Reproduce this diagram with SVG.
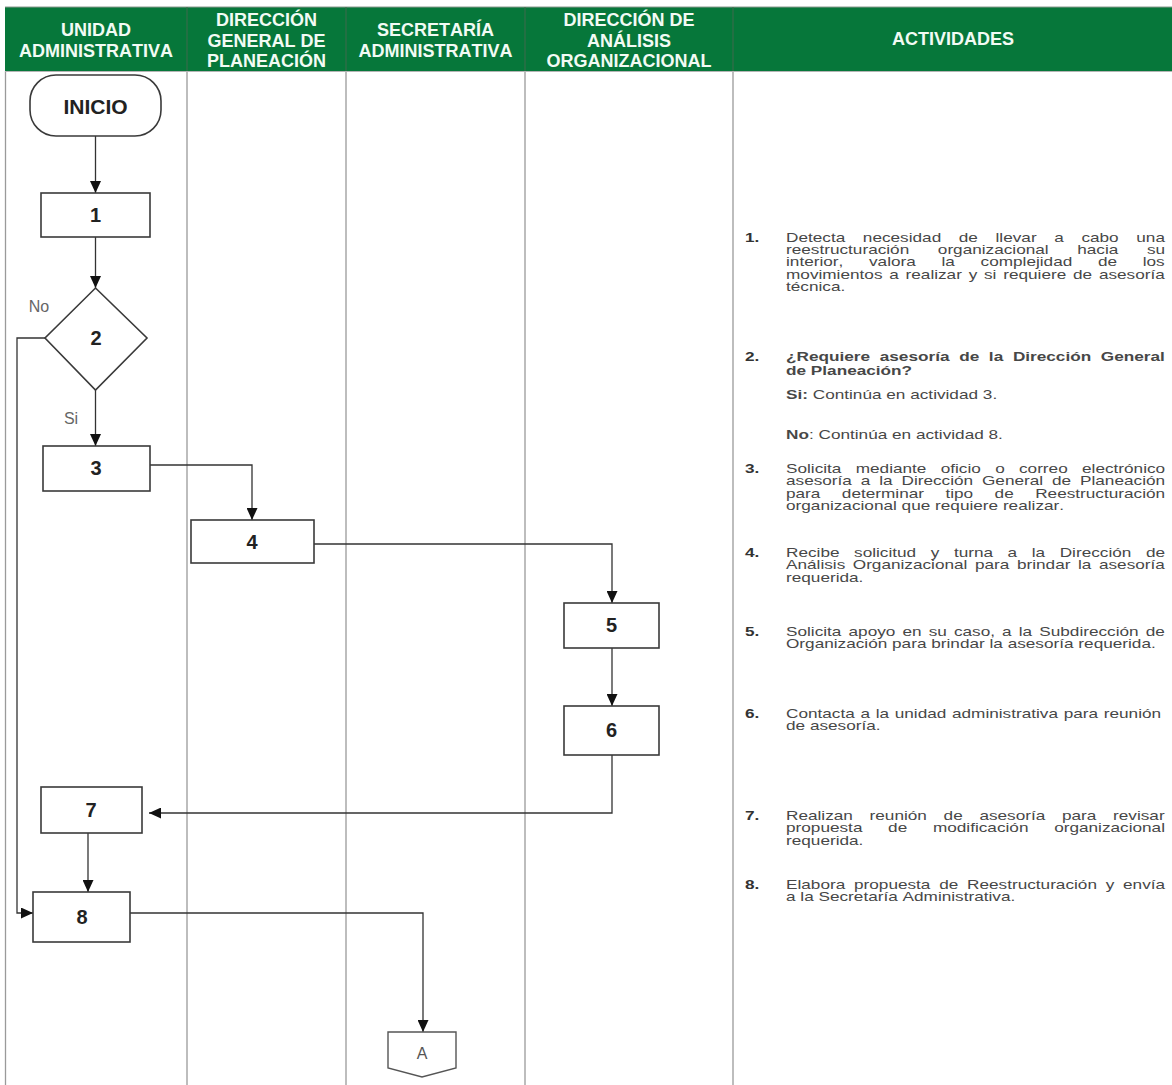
<svg xmlns="http://www.w3.org/2000/svg" width="1172" height="1085" viewBox="0 0 1172 1085">
<defs>
<style>
text{font-family:"Liberation Sans",Arial,sans-serif;font-kerning:none}
.hd{font-size:18px;font-weight:bold;fill:#f2fbf4;text-anchor:middle}
.lane{stroke:#9a9a9a;stroke-width:1.3;fill:none}
.shape{fill:#ffffff;stroke:#3a3a3a;stroke-width:1.6}
.num{font-size:20px;font-weight:bold;fill:#222;text-anchor:middle}
.lbl{font-size:16px;fill:#666}
.con{fill:none;stroke:#333;stroke-width:1.3}
.tx{font-size:13px;fill:#474747}
.nb{font-size:13px;font-weight:bold;fill:#333}
.b{font-weight:bold}
</style>
<marker id="ah" markerUnits="userSpaceOnUse" markerWidth="12" markerHeight="11" refX="12" refY="5.5" orient="auto">
<path d="M0,0 L12,5.5 L0,11 z" fill="#111"/>
</marker>
</defs>
<rect x="0" y="0" width="1172" height="1085" fill="#ffffff"/>
<g id="header">
<rect x="5" y="7" width="1167" height="64" fill="#06773a"/>
<line x1="5" y1="7" x2="1172" y2="7" stroke="#8a9a8e" stroke-width="1"/>
<g stroke="#3f6a4c" stroke-width="1">
<line x1="187" y1="7" x2="187" y2="71"/>
<line x1="346" y1="7" x2="346" y2="71"/>
<line x1="525" y1="7" x2="525" y2="71"/>
<line x1="733" y1="7" x2="733" y2="71"/>
</g>
<text class="hd" x="96" y="35.5">UNIDAD</text>
<text class="hd" x="96" y="56.5">ADMINISTRATIVA</text>
<text class="hd" x="266.5" y="25.5">DIRECCIÓN</text>
<text class="hd" x="266.5" y="46.5">GENERAL DE</text>
<text class="hd" x="266.5" y="67">PLANEACIÓN</text>
<text class="hd" x="435.5" y="35.5">SECRETARÍA</text>
<text class="hd" x="435.5" y="56.5">ADMINISTRATIVA</text>
<text class="hd" x="629" y="25.5">DIRECCIÓN DE</text>
<text class="hd" x="629" y="46.5">ANÁLISIS</text>
<text class="hd" x="629" y="67">ORGANIZACIONAL</text>
<text class="hd" x="953" y="45">ACTIVIDADES</text>
</g>
<g id="lanes">
<line class="lane" x1="5.5" y1="71" x2="5.5" y2="1085"/>
<line class="lane" x1="187" y1="71" x2="187" y2="1085"/>
<line class="lane" x1="346" y1="71" x2="346" y2="1085"/>
<line class="lane" x1="525" y1="71" x2="525" y2="1085"/>
<line class="lane" x1="733" y1="71" x2="733" y2="1085"/>
<line x1="5" y1="71.5" x2="1172" y2="71.5" stroke="#b5b5b5" stroke-width="1"/>
</g>
<g id="connectors">
<line class="con" x1="95.5" y1="136" x2="95.5" y2="193" marker-end="url(#ah)"/>
<line class="con" x1="95.5" y1="237" x2="95.5" y2="288" marker-end="url(#ah)"/>
<line class="con" x1="95.5" y1="390" x2="95.5" y2="446" marker-end="url(#ah)"/>
<polyline class="con" points="45,338 17,338 17,913 33,913" marker-end="url(#ah)"/>
<polyline class="con" points="150,465 252,465 252,520" marker-end="url(#ah)"/>
<polyline class="con" points="314,544 612,544 612,603" marker-end="url(#ah)"/>
<line class="con" x1="612" y1="648" x2="612" y2="706" marker-end="url(#ah)"/>
<polyline class="con" points="612,755 612,813 149,813" marker-end="url(#ah)"/>
<line class="con" x1="88" y1="833" x2="88" y2="892" marker-end="url(#ah)"/>
<polyline class="con" points="130,913 423,913 423,1032" marker-end="url(#ah)"/>
<text class="lbl" x="39" y="312" text-anchor="middle">No</text>
<text class="lbl" x="71" y="424" text-anchor="middle">Si</text>
</g>
<g id="inicio">
<rect class="shape" x="30" y="75" width="131" height="61" rx="26" ry="26"/>
<text x="95.5" y="114" text-anchor="middle" font-size="21" font-weight="bold" fill="#222">INICIO</text>
</g>
<g id="n1">
<rect class="shape" x="41" y="193" width="109" height="44"/>
<text class="num" x="95.5" y="222">1</text>
</g>
<g id="n2">
<polygon class="shape" points="95.5,288 147,338 95.5,390 45,338"/>
<text class="num" x="96" y="345">2</text>
</g>
<g id="n3">
<rect class="shape" x="43" y="446" width="107" height="45"/>
<text class="num" x="96" y="475">3</text>
</g>
<g id="n4">
<rect class="shape" x="191" y="520" width="123" height="43"/>
<text class="num" x="252" y="549">4</text>
</g>
<g id="n5">
<rect class="shape" x="564" y="603" width="95" height="45"/>
<text class="num" x="611.5" y="632">5</text>
</g>
<g id="n6">
<rect class="shape" x="564" y="706" width="95" height="49"/>
<text class="num" x="611.5" y="737">6</text>
</g>
<g id="n7">
<rect class="shape" x="41" y="787" width="101" height="46"/>
<text class="num" x="91" y="817">7</text>
</g>
<g id="n8">
<rect class="shape" x="33" y="892" width="97" height="50"/>
<text class="num" x="82" y="924">8</text>
</g>
<g id="connA">
<polygon points="388,1032 456,1032 456,1068 422,1077 388,1068" fill="#ffffff" stroke="#555" stroke-width="1.4"/>
<text x="422" y="1059" text-anchor="middle" font-size="16" fill="#555">A</text>
</g>
<g id="activities">
<text class="nb" transform="translate(745,241.5) scale(1.323,1)">1.</text>
<text class="tx" transform="translate(786,241.5) scale(1.323,1)" style="word-spacing:9.7px">Detecta necesidad de llevar a cabo una</text>
<text class="tx" transform="translate(786,253.9) scale(1.323,1)" style="word-spacing:18px">reestructuración organizacional hacia su</text>
<text class="tx" transform="translate(786,266.3) scale(1.323,1)" style="word-spacing:15.8px">interior, valora la complejidad de los</text>
<text class="tx" transform="translate(786,278.7) scale(1.323,1)" style="word-spacing:1.5px">movimientos a realizar y si requiere de asesoría</text>
<text class="tx" transform="translate(786,291.1) scale(1.323,1)">técnica.</text>
<text class="nb" transform="translate(745,360.5) scale(1.323,1)">2.</text>
<text class="tx b" transform="translate(786,360.5) scale(1.323,1)" style="word-spacing:3.7px">¿Requiere asesoría de la Dirección General</text>
<text class="tx b" transform="translate(786,374.5) scale(1.323,1)">de Planeación?</text>
<text class="tx" transform="translate(786,398.5) scale(1.323,1)"><tspan class="b">Si:</tspan> Continúa en actividad 3.</text>
<text class="tx" transform="translate(786,438.5) scale(1.323,1)"><tspan class="b">No</tspan>: Continúa en actividad 8.</text>
<text class="nb" transform="translate(745,472.5) scale(1.323,1)">3.</text>
<text class="tx" transform="translate(786,472.5) scale(1.323,1)" style="word-spacing:7.2px">Solicita mediante oficio o correo electrónico</text>
<text class="tx" transform="translate(786,485) scale(1.323,1)" style="word-spacing:3.1px">asesoría a la Dirección General de Planeación</text>
<text class="tx" transform="translate(786,497.5) scale(1.323,1)" style="word-spacing:12.6px">para determinar tipo de Reestructuración</text>
<text class="tx" transform="translate(786,510) scale(1.323,1)">organizacional que requiere realizar.</text>
<text class="nb" transform="translate(745,556.5) scale(1.323,1)">4.</text>
<text class="tx" transform="translate(786,556.5) scale(1.323,1)" style="word-spacing:7.4px">Recibe solicitud y turna a la Dirección de</text>
<text class="tx" transform="translate(786,569) scale(1.323,1)" style="word-spacing:2.1px">Análisis Organizacional para brindar la asesoría</text>
<text class="tx" transform="translate(786,581.5) scale(1.323,1)">requerida.</text>
<text class="nb" transform="translate(745,635.5) scale(1.323,1)">5.</text>
<text class="tx" transform="translate(786,635.5) scale(1.323,1)" style="word-spacing:1.76px">Solicita apoyo en su caso, a la Subdirección de</text>
<text class="tx" transform="translate(786,648) scale(1.323,1)">Organización para brindar la asesoría requerida.</text>
<text class="nb" transform="translate(745,717.5) scale(1.323,1)">6.</text>
<text class="tx" transform="translate(786,717.5) scale(1.323,1)" style="word-spacing:0.67px">Contacta a la unidad administrativa para reunión</text>
<text class="tx" transform="translate(786,730) scale(1.323,1)">de asesoría.</text>
<text class="nb" transform="translate(745,819.5) scale(1.323,1)">7.</text>
<text class="tx" transform="translate(786,819.5) scale(1.323,1)" style="word-spacing:9px">Realizan reunión de asesoría para revisar</text>
<text class="tx" transform="translate(786,832) scale(1.323,1)" style="word-spacing:15.8px">propuesta de modificación organizacional</text>
<text class="tx" transform="translate(786,844.5) scale(1.323,1)">requerida.</text>
<text class="nb" transform="translate(745,888.5) scale(1.323,1)">8.</text>
<text class="tx" transform="translate(786,888.5) scale(1.323,1)" style="word-spacing:3px">Elabora propuesta de Reestructuración y envía</text>
<text class="tx" transform="translate(786,901) scale(1.323,1)">a la Secretaría Administrativa.</text>
</g>
</svg>
